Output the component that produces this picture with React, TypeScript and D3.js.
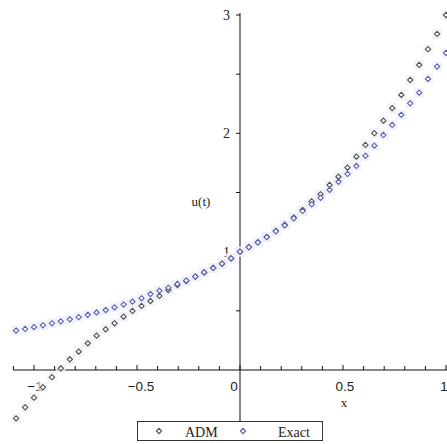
import React, { useEffect, useRef } from "react";
import * as d3 from "d3";

// sample points (x)
const xValues = [
  -1.087, -1.043, -1.0, -0.957, -0.913, -0.87, -0.826, -0.783, -0.739, -0.696,
  -0.652, -0.609, -0.565, -0.522, -0.478, -0.435, -0.391, -0.348, -0.304, -0.261,
  -0.217, -0.174, -0.13, -0.087, -0.043, 0, 0.043, 0.087, 0.13, 0.174,
  0.217, 0.261, 0.304, 0.348, 0.391, 0.435, 0.478, 0.522, 0.565, 0.609,
  0.652, 0.696, 0.739, 0.783, 0.826, 0.87, 0.913, 0.957, 1.0,
];

const admValues = [
  -0.409, -0.315, -0.234, -0.146, -0.061, 0.014, 0.09, 0.155, 0.226, 0.29,
  0.344, 0.395, 0.451, 0.499, 0.541, 0.583, 0.626, 0.676, 0.718, 0.752,
  0.79, 0.825, 0.862, 0.898, 0.943, 1.0, 1.038, 1.08, 1.125, 1.175,
  1.228, 1.288, 1.352, 1.425, 1.485, 1.564, 1.634, 1.71, 1.803, 1.902,
  2.001, 2.107, 2.212, 2.325, 2.451, 2.578, 2.711, 2.84, 3.0,
];

const exactValues = [
  0.333, 0.347, 0.362, 0.378, 0.395, 0.411, 0.428, 0.446, 0.466, 0.486,
  0.507, 0.529, 0.553, 0.578, 0.606, 0.642, 0.67, 0.695, 0.727, 0.756,
  0.79, 0.825, 0.862, 0.898, 0.943, 1.0, 1.038, 1.078, 1.122, 1.172,
  1.222, 1.282, 1.344, 1.4, 1.455, 1.522, 1.59, 1.657, 1.724, 1.81,
  1.896, 1.986, 2.071, 2.156, 2.254, 2.344, 2.46, 2.564, 2.68,
];

const xTickValues = [-1, -0.5, 0, 0.5, 1];
const xTickLabels = ["\u22121", "\u22120.5", "0", "0.5", "1"];
const yTickValues = [1, 2, 3];
const yTickLabels = ["1", "2", "3"];
const seriesNames = ["ADM", "Exact"];
const seriesColors = ["#505050", "#5b5fb5"];

const App = () => {
  const svgRef = useRef(null);

  useEffect(() => {
    const svg = d3.select(svgRef.current);
    svg.selectAll("*").remove();

    const width = 447;

    const x = d3.scaleLinear().domain([-1, 1]).range([34, 446]);
    const y = d3.scaleLinear().domain([0, 3]).range([370, 15]);

    const axisColor = "#111";

    // x axis
    svg.append("line")
      .attr("x1", x(-1.1)).attr("x2", width)
      .attr("y1", y(0)).attr("y2", y(0))
      .attr("stroke", axisColor);

    const xMinor = d3.range(-11, 11).map(i => i / 10);
    svg.selectAll(".xtick")
      .data(xMinor)
      .enter().append("line")
      .attr("x1", d => x(d)).attr("x2", d => x(d))
      .attr("y1", y(0))
      .attr("y2", d => y(0) - (Math.abs(d * 2 - Math.round(d * 2)) < 1e-6 ? 5 : 4))
      .attr("stroke", axisColor);

    const xLabelShift = [1, 4, -6, 2, -2];
    svg.selectAll(".xlabel")
      .data(xTickValues)
      .enter().append("text")
      .attr("x", (d, i) => x(d) + xLabelShift[i])
      .attr("y", 391)
      .attr("text-anchor", "middle")
      .attr("font-family", "Liberation Sans, Arial, sans-serif")
      .attr("font-size", 13.5)
      .attr("fill", "#222")
      .text((d, i) => xTickLabels[i]);

    // y axis
    svg.append("line")
      .attr("x1", x(0)).attr("x2", x(0))
      .attr("y1", y(3) - 2).attr("y2", 421)
      .attr("stroke", axisColor);

    const yMinor = d3.range(1, 7).map(i => i / 2);
    svg.selectAll(".ytick")
      .data(yMinor)
      .enter().append("line")
      .attr("x1", x(0) - 4).attr("x2", x(0))
      .attr("y1", d => y(d)).attr("y2", d => y(d))
      .attr("stroke", axisColor);

    svg.selectAll(".ylabel")
      .data(yTickValues)
      .enter().append("text")
      .attr("x", x(0) - 10)
      .attr("y", d => y(d) + 5)
      .attr("text-anchor", "end")
      .attr("font-family", "Liberation Serif, Times New Roman, serif")
      .attr("font-size", 14)
      .attr("fill", "#222")
      .text((d, i) => yTickLabels[i]);

    // axis titles
    svg.append("text")
      .attr("x", 201).attr("y", 206)
      .attr("text-anchor", "middle")
      .attr("font-family", "Liberation Serif, Times New Roman, serif")
      .attr("font-size", 13)
      .attr("fill", "#222")
      .text("u(t)");

    svg.append("text")
      .attr("x", 344).attr("y", 407)
      .attr("text-anchor", "middle")
      .attr("font-family", "Liberation Serif, Times New Roman, serif")
      .attr("font-size", 13)
      .attr("fill", "#222")
      .text("x");

    // points
    const diamond = "M0,-2.6L2.6,0L0,2.6L-2.6,0Z";
    const series = [admValues, exactValues];

    series.forEach(vals => {
      const pts = xValues.map((xv, i) => ({ x: xv, y: vals[i] }));
      svg.append("g")
        .selectAll("rect")
        .data(pts)
        .enter().append("rect")
        .attr("x", d => x(d.x) - 5).attr("y", d => y(d.y) - 5)
        .attr("width", 10).attr("height", 10)
        .attr("fill", "#eef0f6")
        .attr("opacity", 0.7);
    });

    series.forEach((vals, si) => {
      const pts = xValues.map((xv, i) => ({ x: xv, y: vals[i] }));
      svg.append("g")
        .selectAll("path")
        .data(pts)
        .enter().append("path")
        .attr("d", diamond)
        .attr("transform", d => `translate(${x(d.x)},${y(d.y)})`)
        .attr("fill", "white")
        .attr("stroke", seriesColors[si])
        .attr("stroke-width", 1.1);
    });

    // legend
    const legend = svg.append("g");
    legend.append("rect")
      .attr("x", 137.5).attr("y", 421.5)
      .attr("width", 185).attr("height", 19)
      .attr("fill", "white")
      .attr("stroke", "#333");

    const markerX = [159, 243];
    const textX = [185, 278];
    seriesNames.forEach((name, i) => {
      legend.append("path")
        .attr("d", diamond)
        .attr("transform", `translate(${markerX[i]},431)`)
        .attr("fill", "white")
        .attr("stroke", seriesColors[i])
        .attr("stroke-width", 1.1);
      legend.append("text")
        .attr("x", textX[i]).attr("y", 437)
        .attr("font-family", "Liberation Serif, Times New Roman, serif")
        .attr("font-size", 14)
        .attr("fill", "#222")
        .text(name);
    });
  }, []);

  return (
    <svg
      ref={svgRef}
      width={447}
      height={444}
      style={{ position: "absolute", left: 0, top: 0, background: "white" }}
    />
  );
};

export default App;
